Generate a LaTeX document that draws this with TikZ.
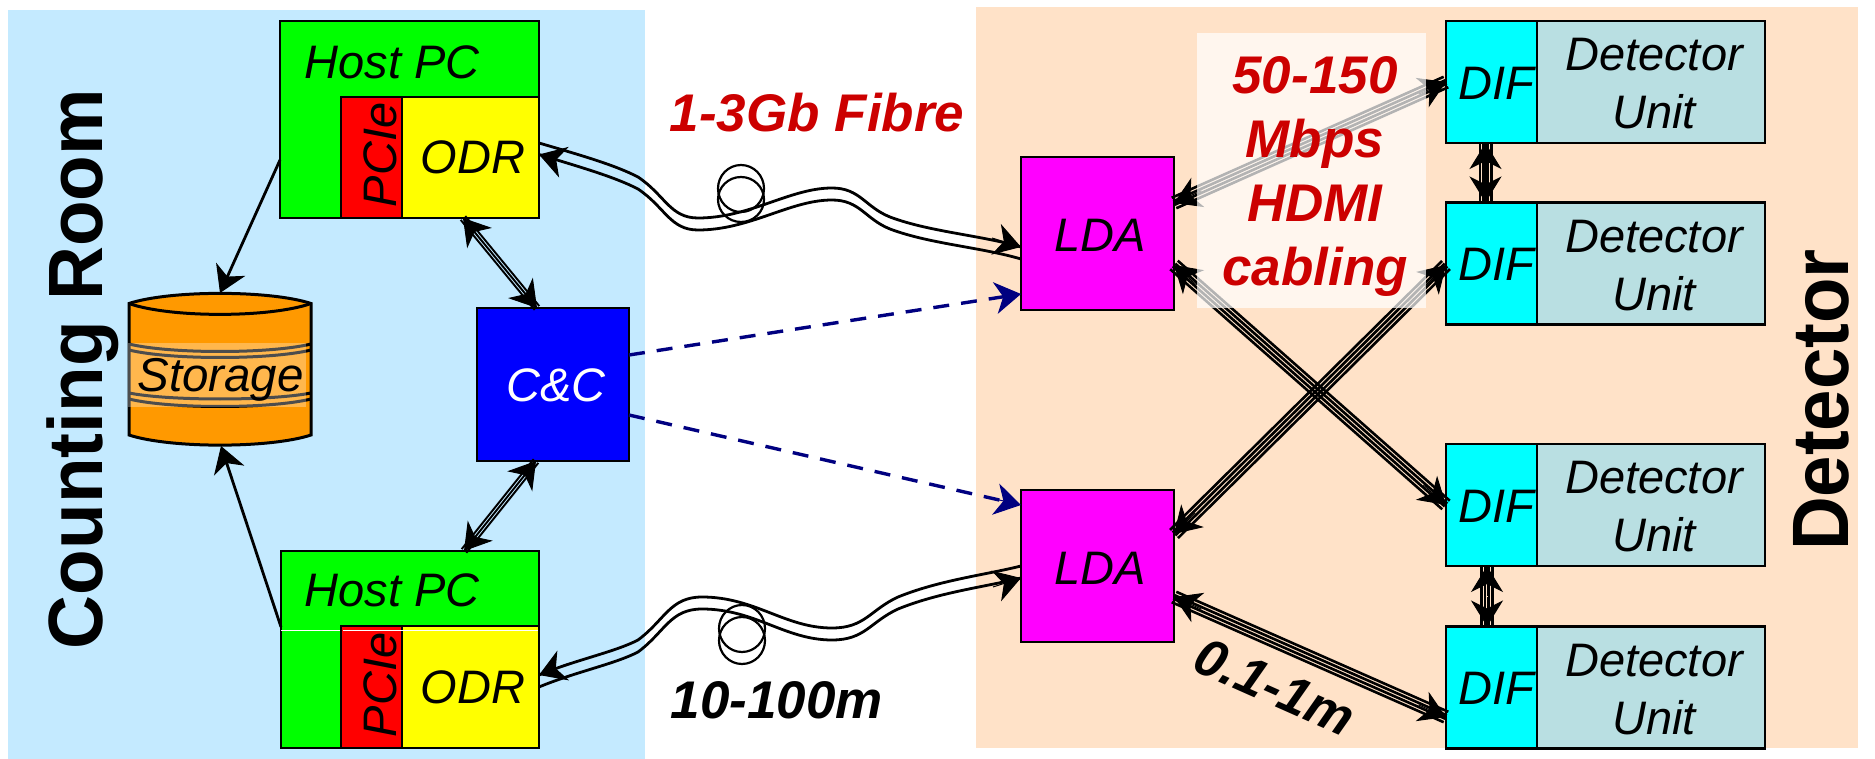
\documentclass[tikz,border=0pt]{standalone}
\usepackage{fontspec}
\setmainfont{Liberation Sans}
\newfontfamily\detfont[FakeStretch=0.93]{Liberation Sans}
\newfontfamily\roomfont[FakeStretch=0.97]{Liberation Sans}
\usetikzlibrary{arrows.meta,calc}
\definecolor{panelblue}{HTML}{C4EAFF}
\definecolor{panelorange}{HTML}{FFE2C8}
\definecolor{detunit}{HTML}{B9DFE2}
\definecolor{storeorange}{HTML}{FF9900}
\definecolor{redtext}{HTML}{CC0000}
\definecolor{dashnavy}{HTML}{000080}
\definecolor{pcgreen}{HTML}{00FF00}
\definecolor{pcired}{HTML}{FF0000}
\definecolor{odryellow}{HTML}{FFFF00}
\definecolor{ccblue}{HTML}{0000FF}
\definecolor{ldamagenta}{HTML}{FF00FF}
\definecolor{difcyan}{HTML}{00FFFF}
\tikzset{
  box/.style={draw=black,line width=2.6pt,outer sep=0pt,inner sep=0pt},
  txt/.style={font=\fontsize{47}{58}\selectfont\itshape,align=center,inner sep=0pt},
  boldtxt/.style={font=\fontsize{53}{64}\selectfont\bfseries\itshape,align=center,inner sep=0pt},
  roomtxt/.style={rotate=90,anchor=base,inner sep=0pt},
  headtip/.style={-{Stealth[length=26pt,width=32pt,inset=8pt]},line width=1pt},
  wire/.style={line cap=butt},
  plainline/.style={line width=2.8pt},
  fibre/.style={line width=2.8pt},
  coil/.style={line width=2.2pt},
  ctrl/.style={dashnavy,line width=3.4pt,dash pattern=on 16pt off 12pt},
  ctrltip/.style={dashnavy,-{Stealth[length=26pt,width=32pt,inset=8pt]},line width=1pt},
}
\newcommand{\bundle}[4]{%
  \foreach \o in {#3}{
    \draw[wire,line width=#4] ($(#1)!\o pt!90:(#2)$) -- ($(#2)!\o pt!-90:(#1)$);
  }
  \draw[headtip] ($(#1)!30pt!(#2)$) -- (#1);
  \draw[headtip] ($(#2)!30pt!(#1)$) -- (#2);
}
\newcommand{\fourbundle}[2]{\bundle{#1}{#2}{-5.7,-1.9,1.9,5.7}{2.6pt}}
\newcommand{\threebundle}[2]{\bundle{#1}{#2}{-3,0,3}{1.9pt}}
\begin{document}
\begin{tikzpicture}[x=1pt,y=-1pt]
\useasboundingbox (0,0) rectangle (1875,759);
% panels
\fill[panelblue] (8,10) rectangle (645,759);
\fill[panelorange] (976,7) rectangle (1858,748);
% boxes
\node[box,fill=pcgreen,minimum width=259pt,minimum height=197pt] (host1) at (409.5,119.5) {};
\node[box,fill=pcired,minimum width=61pt,minimum height=121pt] (pcie1) at (371.5,157.5) {};
\node[box,fill=odryellow,minimum width=137pt,minimum height=121pt] (odr1) at (470.5,157.5) {};
\node[box,fill=pcgreen,minimum width=258pt,minimum height=197pt] (host2) at (410,649.5) {};
\draw[white,line width=.8pt] (281,630) -- (539,630);
\node[box,fill=pcired,minimum width=61pt,minimum height=122pt] (pcie2) at (371.5,687) {};
\node[box,fill=odryellow,minimum width=137pt,minimum height=122pt] (odr2) at (470.5,687) {};
\draw[white,line width=.8pt] (343,630) -- (538,630);
\node[box,fill=ccblue,minimum width=152pt,minimum height=153pt] (cc) at (553,384.5) {};
\node[box,fill=ldamagenta,minimum width=153pt,minimum height=153pt] (lda1) at (1097.5,233.5) {};
\node[box,fill=ldamagenta,minimum width=153pt,minimum height=152pt] (lda2) at (1097.5,566) {};
\foreach \n/\y in {1/82,2/263.5,3/505,4/687.5}{
  \node[box,fill=detunit,minimum width=228pt,minimum height=122pt] (unit\n) at (1651,\y) {};
  \node[box,fill=difcyan,minimum width=91pt,minimum height=122pt] (dif\n) at (1491.5,\y) {};
}
% storage
\draw[line width=3pt,fill=storeorange] (129,303.5) -- (129,435) .. controls (170,448.5) and (270,448.5) .. (311,435) -- (311,303.5) .. controls (270,290) and (170,290) .. (129,303.5) -- cycle;
\draw[line width=3pt] (129,303.5) .. controls (170,318) and (270,318) .. (311,303.5);
\draw[line width=3pt] (129,344) .. controls (170,354) and (270,354) .. (311,344);
\draw[line width=3pt] (129,350) .. controls (170,360) and (270,360) .. (311,350);
\draw[line width=3pt] (129,393) .. controls (170,401) and (270,401) .. (311,393);
\draw[line width=3pt] (129,399) .. controls (170,409) and (270,409) .. (311,399);
\fill[white,opacity=.3] (128,343) rectangle (306,407);
\node[txt,font=\fontsize{47.5}{58}\selectfont\itshape] (storagelabel) at (220.5,380) {Storage};
\coordinate (stTop) at (220,293);
\coordinate (stBot) at (221,446);
% single arrows to storage
\coordinate (h1s) at ([yshift=-40.5pt]host1.west);
\coordinate (h2s) at ([yshift=22.5pt]host2.west);
\draw[plainline] (h1s) -- ($(stTop)!14pt!(h1s)$);
\draw[headtip] ($(stTop)!30pt!(h1s)$) -- (stTop);
\draw[plainline] (h2s) -- ($(stBot)!14pt!(h2s)$);
\draw[headtip] ($(stBot)!30pt!(h2s)$) -- (stBot);
% C&C bundles
\coordinate (o1c) at ([xshift=-7.5pt]odr1.south);
\coordinate (c1o) at ([xshift=-16pt]cc.north);
\threebundle{o1c}{c1o}
\coordinate (o2c) at ([xshift=54pt]host2.north);
\coordinate (c2o) at ([xshift=-17pt]cc.south);
\threebundle{o2c}{c2o}
% fibres top
\draw[fibre] ([yshift=14.5pt]odr1.east) .. controls (580,155) and (615,165) .. (638,177) .. controls (665,195) and (670,218) .. (698,218) .. controls (750,218) and (790,188) .. (832,188) .. controls (860,188) and (865,207) .. (890,217) .. controls (930,232) and (980,235) .. ([yshift=-13.5pt]lda1.west);
\draw[fibre] ([yshift=3pt]odr1.east) .. controls (580,167) and (615,177) .. (638,189) .. controls (665,207) and (670,230) .. (698,230) .. controls (750,230) and (790,200) .. (832,200) .. controls (860,200) and (865,219) .. (890,229) .. controls (930,244) and (980,247) .. ([yshift=-25.5pt]lda1.west);
\coordinate (f1a) at ([yshift=3pt]odr1.east);
\coordinate (f1b) at ([yshift=-13.5pt]lda1.west);
\draw[headtip] ($(f1a)+(29,9)$) -- (f1a);
\draw[headtip] ($(f1b)+(-29,-9)$) -- (f1b);
\draw[coil] (741,188.5) ellipse [x radius=23pt,y radius=23.5pt];
\draw[coil] (741,199.5) ellipse [x radius=23pt,y radius=22.5pt];
% fibres bottom
\draw[fibre] ([yshift=12pt]odr2.east) .. controls (575,660) and (615,652) .. (638,640) .. controls (665,620) and (670,597) .. (702,597) .. controls (755,597) and (785,628) .. (832,628) .. controls (865,628) and (870,610) .. (898,597) .. controls (940,580) and (985,575) .. (lda2.west);
\draw[fibre] (odr2.east) .. controls (575,672) and (615,664) .. (638,652) .. controls (665,632) and (670,609) .. (702,609) .. controls (755,609) and (785,640) .. (832,640) .. controls (865,640) and (870,622) .. (898,609) .. controls (940,592) and (985,587) .. ([yshift=-12pt]lda2.west);
\coordinate (f2a) at ([yshift=12pt]odr2.east);
\coordinate (f2b) at ([yshift=-12pt]lda2.west);
\draw[headtip] ($(f2a)+(28,-11)$) -- (f2a);
\draw[headtip] ($(f2b)+(-28,9)$) -- (f2b);
\draw[coil] (742,628.5) ellipse [x radius=23pt,y radius=23.5pt];
\draw[coil] (742,640.5) ellipse [x radius=23pt,y radius=23.5pt];
% control dashed
\coordinate (cc1) at ([yshift=29.5pt]cc.east);
\coordinate (cc2) at ([yshift=-30.5pt]cc.east);
\coordinate (l1c) at ([yshift=-60.5pt]lda1.west);
\coordinate (l2c) at ([yshift=61pt]lda2.west);
\draw[ctrl] (cc1) -- ($(l1c)!12pt!(cc1)$);
\draw[ctrltip] ($(l1c)!30pt!(cc1)$) -- (l1c);
\draw[ctrl] (cc2) -- ($(l2c)!12pt!(cc2)$);
\draw[ctrltip] ($(l2c)!30pt!(cc2)$) -- (l2c);
% HDMI bundles
\coordinate (la) at ([yshift=30.5pt]lda1.east);
\coordinate (lb) at ([yshift=-31.5pt]lda1.east);
\coordinate (lc) at ([yshift=32pt]lda2.east);
\coordinate (ld) at ([yshift=-31pt]lda2.east);
\coordinate (da) at (dif1.west);
\coordinate (db) at (dif3.west);
\coordinate (dc) at ([yshift=-1.5pt]dif2.west);
\coordinate (dd) at ([yshift=-29.5pt]dif4.west);
\fourbundle{la}{da}
\fourbundle{lb}{db}
\fourbundle{lc}{dc}
\fourbundle{ld}{dd}
\coordinate (v1a) at ([xshift=-6pt]dif1.south);
\coordinate (v1b) at ([xshift=-6pt]dif2.north);
\coordinate (v2a) at ([xshift=-4.5pt]dif3.south);
\coordinate (v2b) at ([xshift=-4.5pt]dif4.north);
\fourbundle{v1a}{v1b}
\fourbundle{v2a}{v2b}
% translucent white panel
\node[fill=white,opacity=.7,minimum width=229pt,minimum height=275pt,inner sep=0pt,outer sep=0pt] (hdmibox) at (1311.5,170.5) {};
% labels
\node[txt] (host1t) at (392,62) {Host PC};
\node[txt] (host2t) at (392,590) {Host PC};
\node[txt,rotate=90] (pcie1t) at (380,155) {PCIe};
\node[txt,rotate=90] (pcie2t) at (380,685) {PCIe};
\node[txt] (odr1t) at (473,157) {ODR};
\node[txt] (odr2t) at (473,687) {ODR};
\node[txt,text=white] (cct) at (556,385) {C\&C};
\node[txt] (lda1t) at (1100,235) {LDA};
\node[txt] (lda2t) at (1100,568) {LDA};
\foreach \n/\y in {1/84,2/265.5,3/507,4/689.5}{
  \node[txt] (unitt\n) at (1654,\y) {Detector\\Unit};
}
\foreach \n/\y in {1/83,2/264.5,3/506,4/688.5}{
  \node[txt] (dift\n) at (1496,\y) {DIF};
}
\node[boldtxt,text=redtext] (fibret) at (817,113) {1-3Gb Fibre};
\node[boldtxt] (lengtht) at (777,700) {10-100m};
\node[boldtxt,text=redtext] (hdmit) at (1315,176) {50-150\\Mbps\\HDMI\\cabling};
\node[boldtxt,rotate=-24] (shortt) at (1275,687) {0.1-1m};
\node[roomtxt,font=\fontsize{77}{77}\selectfont\roomfont\bfseries] (countt) at (102,369) {Counting Room};
\node[roomtxt,font=\fontsize{80}{80}\selectfont\detfont\bfseries] (dett) at (1848,400) {Detector};
\end{tikzpicture}
\end{document}
